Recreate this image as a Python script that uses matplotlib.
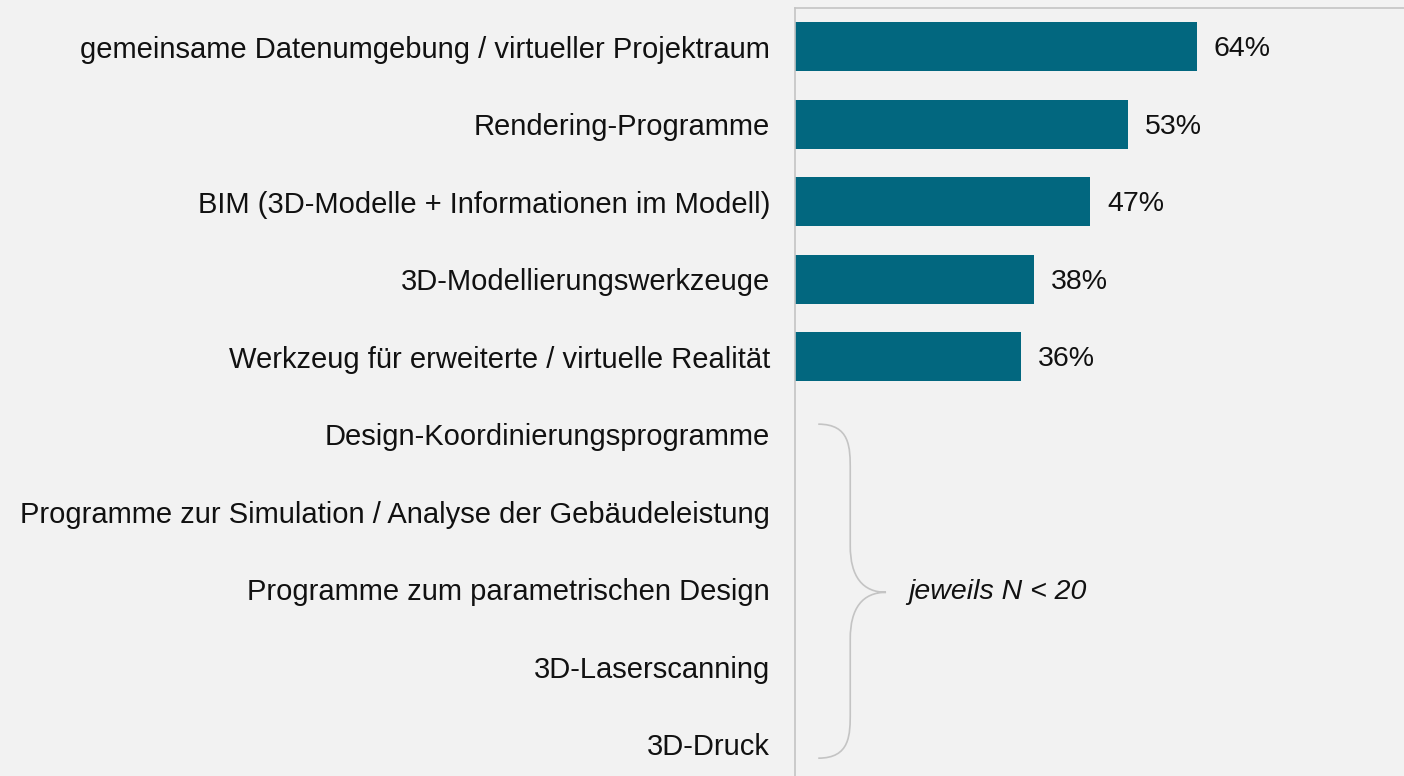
import matplotlib
matplotlib.use("Agg")
import matplotlib.pyplot as plt
from matplotlib.path import Path
from matplotlib.patches import PathPatch

plt.rcParams['font.family'] = ['Liberation Sans', 'DejaVu Sans']

categories = [
    "gemeinsame Datenumgebung / virtueller Projektraum",
    "Rendering-Programme",
    "BIM (3D-Modelle + Informationen im Modell)",
    "3D-Modellierungswerkzeuge",
    "Werkzeug für erweiterte / virtuelle Realität",
    "Design-Koordinierungsprogramme",
    "Programme zur Simulation / Analyse der Gebäudeleistung",
    "Programme zum parametrischen Design",
    "3D-Laserscanning",
    "3D-Druck",
]
values = [64, 53, 47, 38, 36]   # rows below have too few answers
note = "jeweils N < 20"

bg = "#f2f2f2"
bar_color = "#02677f"
line_gray = "#c4c4c4"
fs = 21

fig = plt.figure(figsize=(14.04, 7.76), dpi=100, facecolor=bg)
ax = fig.add_axes([795 / 1404, 0, 1 - 795 / 1404, 768 / 776])
ax.set_facecolor(bg)

ypos = list(range(len(categories)))
ax.barh(ypos[:len(values)], values, height=0.63, color=bar_color)
for y, v in zip(ypos, values):
    ax.text(v + 2.7, y + 0.03, f"{v}%", va="center", ha="left", fontsize=fs - 0.5, color="#111111")

ax.set_xlim(0, 97)
ax.set_ylim(9.41, -0.5)
ax.set_yticks(ypos)
ax.set_yticklabels(categories, fontsize=fs, color="#111111")
ax.tick_params(axis="y", length=0, pad=18)
ax.set_xticks([])

for s in ["right", "bottom"]:
    ax.spines[s].set_visible(False)
for s in ["left", "top"]:
    ax.spines[s].set_color(line_gray)
    ax.spines[s].set_linewidth(1.2)

# curly brace grouping the small-sample rows
x0, x1, xt = 3.7, 8.8, 14.5
y0, yt, y1 = 4.87, 7.04, 9.18
verts = [
    (x0, y0), (x1, y0), (x1, y0 + 0.3), (x1, y0 + 0.6),
    (x1, yt - 0.6),
    (x1, yt - 0.2), (x1 + 2, yt), (xt, yt),
    (x1 + 2, yt), (x1, yt + 0.2), (x1, yt + 0.6),
    (x1, y1 - 0.6),
    (x1, y1 - 0.3), (x1, y1), (x0, y1),
]
codes = [Path.MOVETO, Path.CURVE4, Path.CURVE4, Path.CURVE4,
         Path.LINETO,
         Path.CURVE4, Path.CURVE4, Path.CURVE4,
         Path.CURVE4, Path.CURVE4, Path.CURVE4,
         Path.LINETO,
         Path.CURVE4, Path.CURVE4, Path.CURVE4]
ax.add_patch(PathPatch(Path(verts, codes), fill=False, edgecolor=line_gray, lw=1.2))
ax.text(18, yt, note, style="italic", fontsize=fs - 0.5, va="center", ha="left", color="#111111")

fig.savefig("out.png", dpi=100, facecolor=bg)
